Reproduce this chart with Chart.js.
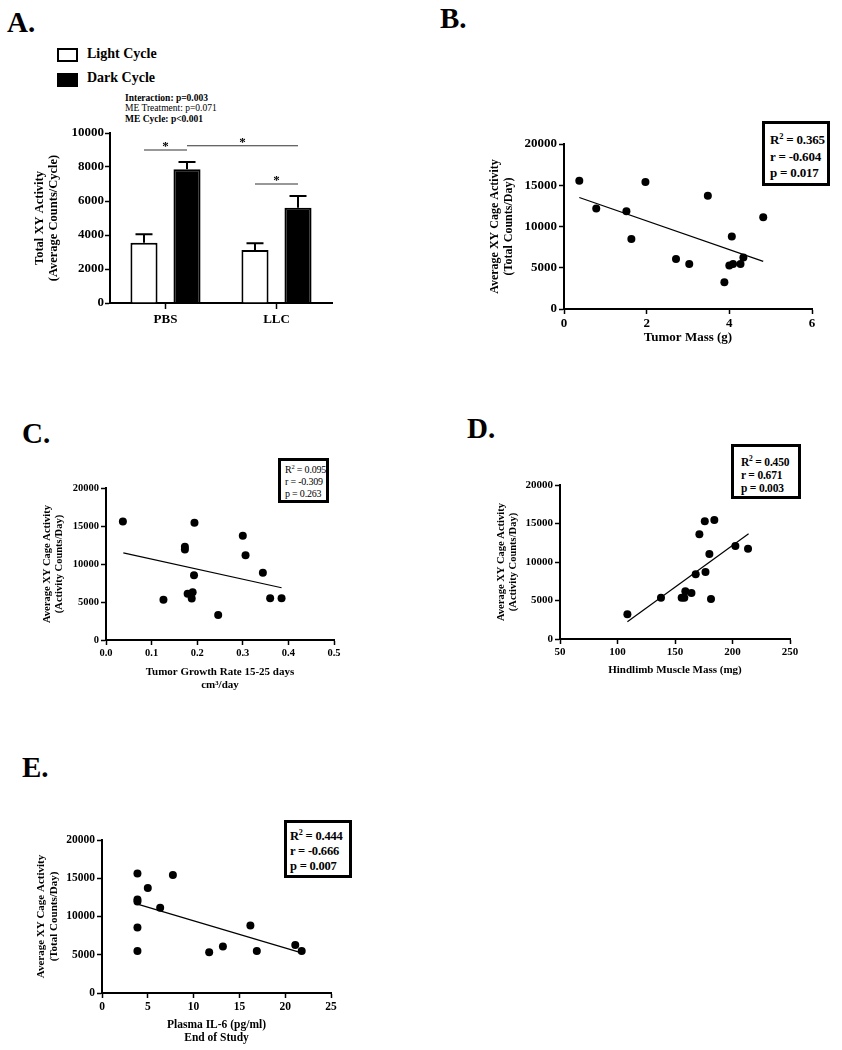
<!DOCTYPE html>
<html>
<head>
<meta charset="UTF-8">
<title>XY Cage Activity</title>
<script src="https://cdn.jsdelivr.net/npm/chart.js"></script>
<style>
  body { margin: 0; background: #fff; }
  #page { position: relative; width: 842px; height: 1050px; overflow: hidden; font-family: 'Liberation Serif', 'Times New Roman', serif; color: #000; }
  canvas { position: absolute; }
  .txt { position: absolute; white-space: nowrap; line-height: 1; }
  .letter { font-size: 29px; font-weight: bold; }
  .statbox { position: absolute; box-sizing: border-box; border: 3px solid #000; background: #fff; white-space: nowrap; letter-spacing: -0.2px; }
  .statbox sup { font-size: 0.65em; vertical-align: super; line-height: 0; }
  .swatch { position: absolute; box-sizing: border-box; border: 2px solid #000; }
</style>
</head>
<body>
<div id="page">

  <!-- panel letters -->
  <div class="txt letter" style="left:7px; top:8px;">A.</div>
  <div class="txt letter" style="left:440px; top:4px;">B.</div>
  <div class="txt letter" style="left:22px; top:419px;">C.</div>
  <div class="txt letter" style="left:467px; top:414px;">D.</div>
  <div class="txt letter" style="left:22px; top:753px;">E.</div>

  <!-- panel A legend + stats -->
  <div class="swatch" style="left:57px; top:48px; width:21px; height:14px; background:#fff;"></div>
  <div class="txt" style="left:87px; top:47px; font-size:14px; font-weight:bold;">Light Cycle</div>
  <div class="swatch" style="left:57px; top:73px; width:21px; height:14px; background:#000;"></div>
  <div class="txt" style="left:87px; top:71px; font-size:14px; font-weight:bold;">Dark Cycle</div>

  <div class="txt" style="left:125px; top:94px; font-size:9.5px; font-weight:bold;">Interaction: p=0.003</div>
  <div class="txt" style="left:125px; top:104px; font-size:9.5px;">ME Treatment: p=0.071</div>
  <div class="txt" style="left:125px; top:115px; font-size:9.5px; font-weight:bold;">ME Cycle: p&lt;0.001</div>

  <canvas id="chartA" width="345" height="220" style="left:0px; top:120px;"></canvas>
  <canvas id="chartB" width="370" height="220" style="left:470px; top:130px;"></canvas>
  <canvas id="chartC" width="350" height="230" style="left:0px; top:470px;"></canvas>
  <canvas id="chartD" width="350" height="220" style="left:470px; top:470px;"></canvas>
  <canvas id="chartE" width="350" height="225" style="left:0px; top:825px;"></canvas>

  <!-- correlation boxes -->
  <div class="statbox" style="left:762px; top:121px; width:68px; height:65px; padding:8px 0 0 5px; font-size:13px; font-weight:bold; line-height:16.5px;">
    R<sup>2</sup> = 0.365<br>r = -0.604<br>p = 0.017
  </div>
  <div class="statbox" style="left:278px; top:458px; width:51px; height:45px; padding:3px 0 0 4px; font-size:10px; line-height:12px;">
    R<sup>2</sup> = 0.095<br>r = -0.309<br>p = 0.263
  </div>
  <div class="statbox" style="left:731px; top:444px; width:70px; height:55px; padding:8.5px 0 0 7px; font-size:11.5px; font-weight:bold; line-height:13px;">
    R<sup>2</sup> = 0.450<br>r = 0.671<br>p = 0.003
  </div>
  <div class="statbox" style="left:284px; top:820px; width:68px; height:58px; padding:5.5px 0 0 3px; font-size:12.5px; font-weight:bold; line-height:15px;">
    R<sup>2</sup> = 0.444<br>r = -0.666<br>p = 0.007
  </div>
</div>

<script>
//                                   DATA
//-------------------------------------------------------------------------------
// A: total XY activity by cycle
const groups = ['PBS', 'LLC'];
const lightMeans = [3550, 3120];
const lightSem = [490, 390];
const darkMeans = [7870, 5600];
const darkSem = [430, 700];
// significance lines: [dataset, index] endpoints and height
const sigFrom = [[0, 0], [1, 0], [0, 1]];
const sigTo = [[1, 0], [1, 1], [1, 1]];
const sigY = [9000, 9250, 7000];

// B: tumor mass
const tumorMass = [0.37, 0.78, 1.51, 1.63, 1.97, 2.71, 3.03, 3.48, 3.88, 4.00, 4.06, 4.09, 4.27, 4.34, 4.82];
const activityB = [15550, 12180, 11860, 8470, 15380, 6050, 5440, 13720, 3230, 5280, 8790, 5440, 5440, 6250, 11130];
const fitBx = [0.37, 4.82];
const fitBy = [13510, 5770];

// C: tumor growth rate
const growthRate = [0.037, 0.126, 0.173, 0.173, 0.194, 0.179, 0.190, 0.188, 0.193, 0.246, 0.300, 0.306, 0.344, 0.360, 0.385];
const activityC = [15590, 5300, 12280, 11900, 15420, 6090, 6290, 5460, 8530, 3290, 13730, 11160, 8860, 5480, 5480];
const fitCx = [0.038, 0.385];
const fitCy = [11470, 6870];

// D: hindlimb muscle mass
const muscleMass = [108.6, 137.8, 155.8, 158.1, 159.0, 164.3, 168.0, 171.2, 175.9, 176.5, 179.9, 181.3, 184.2, 202.5, 213.5];
const activityD = [3200, 5370, 5370, 5370, 6190, 5970, 8400, 13590, 15280, 8700, 11040, 5200, 15460, 12080, 11730];
const fitDx = [108.6, 214];
const fitDy = [2250, 13680];

// E: plasma IL-6
const il6 = [3.87, 3.87, 3.87, 3.87, 3.87, 5.0, 6.35, 7.74, 11.7, 13.2, 16.2, 16.9, 21.1, 21.8];
const activityE = [15630, 12230, 11970, 8560, 5500, 13710, 11140, 15420, 5330, 6070, 8820, 5500, 6290, 5500];
const fitEx = [3.87, 21.8];
const fitEy = [11620, 5240];

//                                   HELPERS
//-------------------------------------------------------------------------------
const SERIF = "'Liberation Serif', 'Times New Roman', serif";
Chart.defaults.color = '#000';
Chart.defaults.font.family = SERIF;

function boldFont(size, lh) {
    return { family: SERIF, size: size, weight: 'bold', lineHeight: lh || 1.2 };
}

// canvas box {x,y,w,h} and plot area {l,t,r,b} in page pixels
function fixedLayout(box, area) {
    return {
        padding: { top: area.t - box.y, right: box.x + box.w - area.r, left: 0, bottom: 0 },
        yWidth: area.l - box.x,
        xHeight: box.y + box.h - area.b
    };
}

function axisStyle(o) {
    return {
        grid: { display: true, drawOnChartArea: false, drawTicks: true, tickLength: o.tickLength || 5, tickWidth: 1.5, tickColor: '#000' },
        border: { display: true, color: '#000', width: 2 }
    };
}

function scatterChart(id, box, area, xs, ys, fx, fy, o) {
    const lay = fixedLayout(box, area);
    const pts = xs.map((x, i) => ({ x: x, y: ys[i] }));
    const fit = fx.map((x, i) => ({ x: x, y: fy[i] }));
    return new Chart(document.getElementById(id), {
        type: 'scatter',
        data: {
            datasets: [
                { data: fit, showLine: true, pointRadius: 0, borderColor: '#000', borderWidth: 1.2 },
                { data: pts, pointRadius: 4, backgroundColor: '#000', borderWidth: 0 }
            ]
        },
        options: {
            responsive: false,
            animation: false,
            layout: { padding: lay.padding },
            plugins: { legend: { display: false }, tooltip: { enabled: false } },
            scales: {
                x: Object.assign(axisStyle(o), {
                    type: 'linear', min: o.xMin, max: o.xMax,
                    ticks: { stepSize: o.xStep, font: boldFont(o.tickSize), padding: 2, callback: o.xFmt || (v => String(v)) },
                    title: { display: true, text: o.xTitle, font: boldFont(o.xTitleSize, 1.15), padding: { top: 0, bottom: o.xTitlePad } },
                    afterFit: s => { s.height = lay.xHeight; }
                }),
                y: Object.assign(axisStyle(o), {
                    type: 'linear', min: 0, max: 20000,
                    ticks: { stepSize: 5000, font: boldFont(o.tickSize), padding: 2, callback: v => String(v) },
                    title: { display: true, text: o.yTitle, font: boldFont(o.yTitleSize, 1.15), padding: { top: o.yTitlePad, bottom: 0 } },
                    afterFit: s => { s.width = lay.yWidth; }
                })
            }
        }
    });
}

//                                   PANEL A
//-------------------------------------------------------------------------------
const errorBars = {
    id: 'errorBars',
    afterDatasetsDraw(chart) {
        const ctx = chart.ctx, yS = chart.scales.y;
        const sems = [lightSem, darkSem];
        ctx.save();
        ctx.strokeStyle = '#000';
        ctx.lineWidth = 2;
        chart.data.datasets.forEach((ds, i) => {
            chart.getDatasetMeta(i).data.forEach((bar, j) => {
                const top = yS.getPixelForValue(ds.data[j] + sems[i][j]);
                ctx.beginPath();
                ctx.moveTo(bar.x, bar.y);
                ctx.lineTo(bar.x, top);
                ctx.moveTo(bar.x - 8.5, top);
                ctx.lineTo(bar.x + 8.5, top);
                ctx.stroke();
            });
        });
        // significance lines and stars
        ctx.lineWidth = 1.2;
        ctx.strokeStyle = '#333';
        ctx.fillStyle = '#000';
        ctx.font = 'bold 13px ' + SERIF;
        ctx.textAlign = 'center';
        ctx.textBaseline = 'middle';
        sigY.forEach((v, k) => {
            const a = chart.getDatasetMeta(sigFrom[k][0]).data[sigFrom[k][1]].x;
            const b = chart.getDatasetMeta(sigTo[k][0]).data[sigTo[k][1]].x;
            const y = yS.getPixelForValue(v);
            ctx.beginPath();
            ctx.moveTo(a, y);
            ctx.lineTo(b, y);
            ctx.stroke();
            ctx.fillText('*', (a + b) / 2, y - 3);
        });
        ctx.restore();
    }
};

const layA = fixedLayout({ x: 0, y: 120, w: 345, h: 220 }, { l: 110, t: 133, r: 332, b: 303 });
new Chart(document.getElementById('chartA'), {
    type: 'bar',
    data: {
        labels: groups,
        datasets: [
            { label: 'Light Cycle', data: lightMeans, backgroundColor: '#fff', borderColor: '#000', borderWidth: 2 },
            { label: 'Dark Cycle', data: darkMeans, backgroundColor: '#000', borderColor: '#000', borderWidth: 2 }
        ]
    },
    options: {
        responsive: false,
        animation: false,
        layout: { padding: layA.padding },
        datasets: { bar: { categoryPercentage: 0.775, barPercentage: 0.63 } },
        plugins: { legend: { display: false }, tooltip: { enabled: false } },
        scales: {
            x: {
                grid: { display: true, offset: false, drawOnChartArea: false, drawTicks: true, tickLength: 6, tickWidth: 1.5, tickColor: '#000' },
                border: { display: true, color: '#000', width: 2 },
                ticks: { font: boldFont(13), padding: 3 },
                afterFit: s => { s.height = layA.xHeight; }
            },
            y: {
                min: 0, max: 10000,
                grid: { display: true, drawOnChartArea: false, drawTicks: true, tickLength: 5, tickWidth: 1.5, tickColor: '#000' },
                border: { display: true, color: '#000', width: 2 },
                ticks: { stepSize: 2000, font: boldFont(13), padding: 1, callback: v => String(v) },
                title: { display: true, text: ['Total XY Activity', '(Average Counts/Cycle)'], font: boldFont(12.5, 1.1), padding: { top: 33, bottom: 0 } },
                afterFit: s => { s.width = layA.yWidth; }
            }
        }
    },
    plugins: [errorBars]
});

//                                   PANELS B - E
//-------------------------------------------------------------------------------
scatterChart('chartB', { x: 470, y: 130, w: 370, h: 220 }, { l: 564, t: 144, r: 812, b: 309 },
    tumorMass, activityB, fitBx, fitBy, {
        xMin: 0, xMax: 6, xStep: 2, tickSize: 13,
        xTitle: 'Tumor Mass (g)', xTitleSize: 13, xTitlePad: 5,
        yTitle: ['Average XY Cage Activity', '(Total Counts/Day)'], yTitleSize: 12, yTitlePad: 18
    });

scatterChart('chartC', { x: 0, y: 470, w: 350, h: 230 }, { l: 106, t: 488, r: 334, b: 640 },
    growthRate, activityC, fitCx, fitCy, {
        xMin: 0, xMax: 0.5, xStep: 0.1, tickSize: 10.5, xFmt: v => v.toFixed(1),
        xTitle: ['Tumor Growth Rate 15-25 days', 'cm\u00b3/day'], xTitleSize: 11, xTitlePad: 9,
        yTitle: ['Average XY Cage Activity', '(Activity Counts/Day)'], yTitleSize: 10.5, yTitlePad: 41
    });

scatterChart('chartD', { x: 470, y: 470, w: 350, h: 220 }, { l: 560, t: 485, r: 790, b: 639 },
    muscleMass, activityD, fitDx, fitDy, {
        xMin: 50, xMax: 250, xStep: 50, tickSize: 11,
        xTitle: 'Hindlimb Muscle Mass (mg)', xTitleSize: 11, xTitlePad: 13.5,
        yTitle: ['Average XY Cage Activity', '(Activity Counts/Day)'], yTitleSize: 10.5, yTitlePad: 25
    });

scatterChart('chartE', { x: 0, y: 825, w: 350, h: 225 }, { l: 102, t: 840, r: 331, b: 993 },
    il6, activityE, fitEx, fitEy, {
        xMin: 0, xMax: 25, xStep: 5, tickSize: 11.5,
        xTitle: ['Plasma IL-6 (pg/ml)', 'End of Study'], xTitleSize: 11.5, xTitlePad: 5,
        yTitle: ['Average XY Cage Activity', '(Total Counts/Day)'], yTitleSize: 11, yTitlePad: 35
    });
</script>
</body>
</html>
